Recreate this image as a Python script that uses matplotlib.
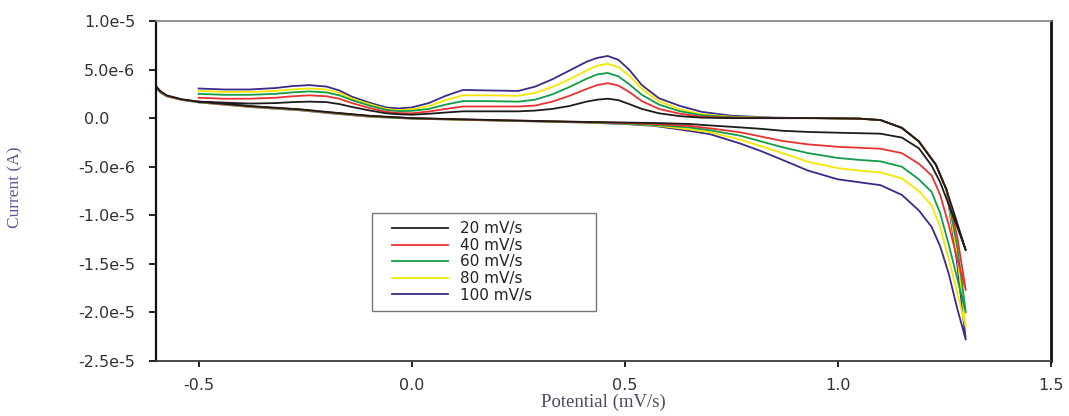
import numpy as np
import matplotlib
matplotlib.use('Agg')
import matplotlib.pyplot as plt
from matplotlib.ticker import FixedLocator, FixedFormatter
from matplotlib.lines import Line2D
from matplotlib.legend_handler import HandlerLine2D

plt.rcParams['axes.unicode_minus'] = False
plt.rcParams['font.family'] = ['DejaVu Sans']

# ---------------- data (current in microampere) ----------------
scan_labels = ['20 mV/s', '40 mV/s', '60 mV/s', '80 mV/s', '100 mV/s']
colors = ['#1c1c1c', '#e8322f', '#109c48', '#f5e600', '#3b2a88']

# forward (anodic) sweep, -0.5 V -> 1.3 V
fwd_x = [-0.5, -0.44, -0.38, -0.32, -0.28, -0.24, -0.2, -0.17, -0.14, -0.1,
         -0.06, -0.03, 0.0, 0.04, 0.08, 0.12, 0.18, 0.25, 0.29, 0.33,
         0.37, 0.41, 0.435, 0.46, 0.485, 0.51, 0.54, 0.58, 0.63, 0.68,
         0.75, 0.85, 0.95, 1.05, 1.1, 1.15, 1.19, 1.23, 1.255, 1.28, 1.3]
fwd_20 = [1.7, 1.6, 1.5, 1.55, 1.65, 1.7, 1.65, 1.45, 1.15, 0.8,
          0.5, 0.4, 0.35, 0.45, 0.58, 0.7, 0.7, 0.7, 0.78, 0.95,
          1.25, 1.7, 1.9, 2.0, 1.85, 1.45, 0.95, 0.5, 0.2, 0.05,
          0.0, 0.0, 0.0, -0.05, -0.2, -1.0, -2.4, -4.8, -7.4, -10.8, -13.6]
fwd_40 = [2.1, 2.0, 2.0, 2.1, 2.25, 2.35, 2.25, 2.0, 1.55, 1.05,
          0.65, 0.52, 0.5, 0.68, 0.95, 1.2, 1.2, 1.2, 1.3, 1.7,
          2.3, 3.0, 3.4, 3.6, 3.35, 2.7, 1.75, 0.95, 0.45, 0.15,
          0.05, 0.0, 0.0, -0.05, -0.2, -1.0, -2.4, -4.8, -7.4, -12.2, -17.7]
fwd_60 = [2.5, 2.4, 2.4, 2.5, 2.65, 2.75, 2.65, 2.35, 1.85, 1.3,
          0.85, 0.72, 0.75, 0.95, 1.4, 1.75, 1.75, 1.7, 1.9, 2.45,
          3.2, 4.05, 4.5, 4.65, 4.3, 3.5, 2.4, 1.4, 0.7, 0.3,
          0.1, 0.02, 0.0, -0.05, -0.2, -1.0, -2.4, -4.8, -7.4, -13.2, -20.0]
fwd_80 = [2.8, 2.7, 2.7, 2.8, 2.95, 3.05, 2.95, 2.6, 2.0, 1.45,
          0.95, 0.82, 0.9, 1.25, 1.85, 2.35, 2.35, 2.3, 2.6, 3.2,
          4.0, 4.9, 5.4, 5.6, 5.25, 4.4, 3.0, 1.75, 0.9, 0.4,
          0.15, 0.02, 0.0, -0.05, -0.2, -1.0, -2.4, -4.8, -7.4, -14.2, -21.5]
fwd_100 = [3.05, 2.95, 2.95, 3.1, 3.3, 3.4, 3.25, 2.85, 2.2, 1.6,
           1.1, 1.0, 1.1, 1.55, 2.3, 2.9, 2.85, 2.8, 3.25, 4.0,
           4.9, 5.8, 6.2, 6.4, 6.0, 5.0, 3.4, 2.05, 1.25, 0.65,
           0.25, 0.05, 0.0, -0.05, -0.2, -1.0, -2.4, -4.8, -7.4, -15.0, -22.8]

# reverse (cathodic) sweep, 1.3 V -> -0.6 V
rev_x = [1.3, 1.28, 1.26, 1.24, 1.22, 1.19, 1.15, 1.1, 1.05, 1.0,
         0.93, 0.87, 0.82, 0.77, 0.7, 0.65, 0.57, 0.5, 0.4, 0.3,
         0.2, 0.1, 0.0, -0.1, -0.19, -0.26, -0.38, -0.5, -0.54, -0.575,
         -0.59, -0.6]
rev_20 = [-13.6, -11.2, -8.9, -6.6, -4.9, -3.1, -2.0, -1.6, -1.55, -1.5,
          -1.42, -1.3, -1.1, -0.95, -0.75, -0.6, -0.5, -0.45, -0.38, -0.3,
          -0.2, -0.1, 0.0, 0.25, 0.6, 0.9, 1.25, 1.7, 1.95, 2.35, 2.8, 3.3]
rev_40 = [-17.7, -14.5, -11.0, -7.9, -5.9, -4.7, -3.6, -3.15, -3.05, -2.95,
          -2.7, -2.35, -1.9, -1.45, -1.05, -0.8, -0.6, -0.5, -0.4, -0.3,
          -0.22, -0.12, 0.0, 0.22, 0.58, 0.88, 1.22, 1.68, 1.92, 2.3, 2.75, 3.2]
rev_60 = [-20.0, -16.5, -13.0, -9.8, -7.6, -6.3, -5.0, -4.45, -4.3, -4.1,
          -3.6, -3.0, -2.4, -1.8, -1.25, -0.95, -0.7, -0.55, -0.42, -0.32,
          -0.23, -0.13, -0.02, 0.2, 0.56, 0.86, 1.2, 1.66, 1.9, 2.28, 2.7, 3.15]
rev_80 = [-21.5, -18.0, -14.5, -11.2, -9.0, -7.5, -6.2, -5.6, -5.4, -5.15,
          -4.5, -3.6, -2.9, -2.2, -1.45, -1.15, -0.75, -0.55, -0.43, -0.33,
          -0.24, -0.14, -0.03, 0.18, 0.54, 0.84, 1.18, 1.65, 1.9, 2.28, 2.7, 3.15]
rev_100 = [-22.8, -19.6, -16.0, -13.2, -11.2, -9.5, -7.9, -6.9, -6.6, -6.3,
           -5.4, -4.3, -3.4, -2.6, -1.65, -1.3, -0.8, -0.6, -0.45, -0.35,
           -0.25, -0.15, -0.05, 0.15, 0.5, 0.8, 1.15, 1.62, 1.88, 2.25, 2.65, 3.1]

x_ticks = [-0.5, 0.0, 0.5, 1.0, 1.5]
x_ticklabels = ['-0.5', '0.0', '0.5', '1.0', '1.5']
y_ticks = [1.0e-5, 5.0e-6, 0.0, -5.0e-6, -1.0e-5, -1.5e-5, -2.0e-5, -2.5e-5]
y_ticklabels = ['1.0e-5', '5.0e-6', '0.0     ', '-5.0e-6', '-1.0e-5',
                '-1.5e-5', '-2.0e-5', '-2.5e-5']

fwd_series = [fwd_20, fwd_40, fwd_60, fwd_80, fwd_100]
rev_series = [rev_20, rev_40, rev_60, rev_80, rev_100]

# ---------------- figure ----------------
W, H = 1069, 416
fig = plt.figure(figsize=(W / 100, H / 100), dpi=100)
ax = fig.add_axes([156 / W, 55 / H, 895 / W, 340 / H])

handles = [None] * 5
for i in reversed(range(5)):
    xs = list(fwd_x) + list(rev_x)
    ys = np.array(list(fwd_series[i]) + list(rev_series[i])) * 1e-6
    ln, = ax.plot(xs, ys, color=colors[i], lw=1.3, solid_joinstyle='round',
                  zorder=2 + (5 - i) * 0.1)
    handles[i] = ln

ax.set_xlim(-0.6, 1.5)
ax.set_ylim(-2.5e-5, 1.0e-5)

ax.xaxis.set_major_locator(FixedLocator(x_ticks))
ax.xaxis.set_major_formatter(FixedFormatter(x_ticklabels))
ax.yaxis.set_major_locator(FixedLocator(y_ticks))
ax.yaxis.set_major_formatter(FixedFormatter(y_ticklabels))

ax.tick_params(axis='y', direction='out', length=5, width=1.3, pad=10,
               labelsize=11.5, labelcolor='#333333', color='#111111')
ax.tick_params(axis='x', direction='out', length=4, width=1.3, pad=8,
               labelsize=11.5, labelcolor='#333333', color='#111111')

ax.spines['left'].set_color('#111111')
ax.spines['left'].set_linewidth(1.6)
ax.spines['bottom'].set_color('#3a3a3a')
ax.spines['bottom'].set_linewidth(1.3)
ax.spines['top'].set_color('#8a8a8a')
ax.spines['top'].set_linewidth(1.3)
ax.spines['right'].set_color('#111111')
ax.spines['right'].set_linewidth(2.0)

ax.set_xlabel('Potential (mV/s)', family='Liberation Serif', fontsize=13.5,
              color='#4e4860')
ax.xaxis.set_label_coords(0.5, -0.097)
ax.set_ylabel('Current (A)', family='Liberation Serif', fontsize=12.5,
              color='#5a5a9a')
ax.yaxis.set_label_coords(-0.148, 0.512)

leg = ax.legend(handles, scan_labels, loc='upper left',
                bbox_to_anchor=(0.2413, 0.138, 0.2503, 0.2973),
                mode='expand', borderaxespad=0, frameon=True, fancybox=False,
                edgecolor='#555555', fontsize=11, handlelength=4.42,
                handletextpad=0.8, labelspacing=0.1, borderpad=0.55,
                handler_map={Line2D: HandlerLine2D(xpad=0.76)})
leg.get_frame().set_linewidth(1.0)
for t in leg.get_texts():
    t.set_color('#222222')

fig.savefig('out.png', dpi=100)
